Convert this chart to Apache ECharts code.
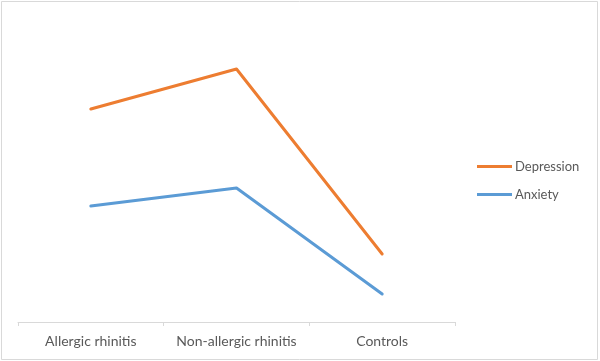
<!DOCTYPE html>
<html>
<head>
<meta charset="utf-8">
<script src="https://cdn.jsdelivr.net/npm/echarts@6/dist/echarts.min.js"></script>
<style>html,body{margin:0;padding:0;background:#fff;}#chart{width:600px;height:361px;}</style>
</head>
<body>
<div id="chart"></div>
<script>
const categories = ['Allergic rhinitis', 'Non-allergic rhinitis', 'Controls'];
const depression = [21.3, 25.3, 6.8];
const anxiety = [11.6, 13.4, 2.8];

const chart = echarts.init(document.getElementById('chart'), null, {renderer: 'canvas'});
const font = 'Lato, "Liberation Sans", Arial, sans-serif';
chart.setOption({
  animation: false,
  backgroundColor: '#ffffff',
  graphic: [{
    type: 'rect', shape: {x: 1.5, y: 1.5, width: 596, height: 358},
    style: {fill: 'none', stroke: '#d9d9d9', lineWidth: 1}, silent: true, z: -1
  }],
  grid: {left: 18, right: 145, top: 22, bottom: 39, containLabel: false},
  legend: {
    orient: 'vertical', left: 472, top: 154,
    itemWidth: 35, itemHeight: 3, itemGap: 13,
    icon: 'rect',
    textStyle: {color: '#595959', fontSize: 13, fontFamily: font, lineHeight: 15, padding: [0, 0, 0, -2]},
    data: ['Depression', 'Anxiety']
  },
  xAxis: {
    type: 'category', data: categories, boundaryGap: true,
    axisLine: {lineStyle: {color: '#d9d9d9', width: 1}},
    axisTick: {show: true, length: 4, lineStyle: {color: '#d9d9d9'}},
    axisLabel: {color: '#595959', fontSize: 14, fontFamily: font, margin: 12, interval: 0, hideOverlap: false}
  },
  yAxis: {
    type: 'value', min: 0, max: 30, show: false,
    splitLine: {show: false}
  },
  series: [
    {name: 'Depression', type: 'line', data: depression, symbol: 'none',
     lineStyle: {color: '#ED7D31', width: 3, cap: 'round', join: 'round'}, itemStyle: {color: '#ED7D31'}},
    {name: 'Anxiety', type: 'line', data: anxiety, symbol: 'none',
     lineStyle: {color: '#5B9BD5', width: 3, cap: 'round', join: 'round'}, itemStyle: {color: '#5B9BD5'}}
  ]
});
</script>
</body>
</html>
